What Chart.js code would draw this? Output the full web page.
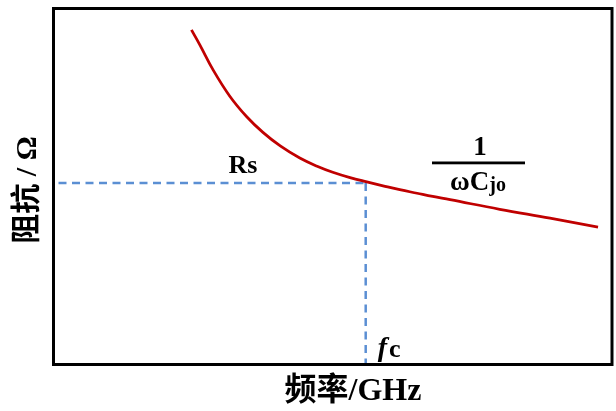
<!DOCTYPE html>
<html>
<head>
<meta charset="utf-8">
<script src="https://cdn.jsdelivr.net/npm/chart.js@4/dist/chart.umd.min.js"></script>
<style>
  html, body { margin: 0; padding: 0; background: #fff; }
  #wrap { width: 616px; height: 411px; position: relative; }
</style>
</head>
<body>
<div id="wrap"><canvas id="c" width="616" height="411"></canvas></div>
<script>
// Impedance vs. frequency (arbitrary units on both axes)
const freq      = [2.47, 2.62, 2.86, 3.16, 3.46, 3.75, 4.06, 4.41, 4.72, 5.00, 5.31, 5.61, 5.90, 6.20, 6.51, 6.79, 7.10, 7.99, 8.89, 9.75];
const impedance = [9.40, 8.98, 8.27, 7.53, 6.96, 6.52, 6.14, 5.80, 5.57, 5.40, 5.25, 5.13, 5.02, 4.91, 4.81, 4.72, 4.63, 4.36, 4.11, 3.86];

// Series resistance level and corner frequency
const rsLevel = 5.10;
const fcFreq  = 5.59;

const axisRange = { xMin: 0, xMax: 10, yMin: 0, yMax: 10 };

const curvePoints = freq.map((f, i) => ({ x: f, y: impedance[i] }));
const rsLine = [{ x: axisRange.xMin, y: rsLevel }, { x: fcFreq, y: rsLevel }];
const fcLine = [{ x: fcFreq, y: rsLevel }, { x: fcFreq, y: axisRange.yMin }];

const SERIF = "'Liberation Serif', 'Times New Roman', 'Noto Sans CJK SC', serif";
const RED = '#C00000';
const BLUE = '#5B8FD3';

// Frame, annotations and axis titles
const annotate = {
  id: 'annotate',
  afterDatasetsDraw(chart) {
    const { ctx, chartArea: a, scales } = chart;
    const xs = scales.x, ys = scales.y;
    ctx.save();

    // plot frame
    ctx.strokeStyle = '#000';
    ctx.lineWidth = 3;
    ctx.strokeRect(a.left, a.top, a.right - a.left, a.bottom - a.top);

    ctx.fillStyle = '#000';
    ctx.textBaseline = 'alphabetic';

    // Rs label above the dashed level line
    ctx.font = 'bold 26px ' + SERIF;
    ctx.textAlign = 'center';
    ctx.fillText('Rs', xs.getPixelForValue(3.39), ys.getPixelForValue(rsLevel) - 10);

    // fc label beside the dashed frequency marker
    const fx = xs.getPixelForValue(fcFreq) + 12;
    const fy = a.bottom - 9;
    ctx.textAlign = 'left';
    ctx.font = 'italic bold 28px ' + SERIF;
    ctx.fillText('f', fx, fy);
    const fw = ctx.measureText('f').width;
    ctx.font = 'bold 26px ' + SERIF;
    ctx.fillText('c', fx + fw + 2, fy + 1);

    // 1 / ωCjo fraction
    const cx = 478;
    ctx.textAlign = 'center';
    ctx.font = 'bold 27px ' + SERIF;
    ctx.fillText('1', cx + 2, 155);
    ctx.fillRect(432, 161.5, 93, 2.8);
    ctx.textAlign = 'left';
    ctx.font = 'bold 27px ' + SERIF;
    const w1 = ctx.measureText('ωC').width;
    ctx.font = 'bold 20px ' + SERIF;
    const w2 = ctx.measureText('jo').width;
    const sx = cx - (w1 + w2) / 2;
    ctx.font = 'bold 27px ' + SERIF;
    ctx.fillText('ωC', sx, 190);
    ctx.font = 'bold 20px ' + SERIF;
    ctx.fillText('jo', sx + w1, 191);

    // axis titles
    ctx.font = 'bold 32px ' + SERIF;
    ctx.textAlign = 'center';
    ctx.textBaseline = 'middle';
    ctx.fillText('频率/GHz', 353, 392);

    ctx.font = 'bold 30px ' + SERIF;
    ctx.translate(28, 190);
    ctx.rotate(-Math.PI / 2);
    ctx.fillText('阻抗 / Ω', 0, 0);

    ctx.restore();
  }
};

new Chart(document.getElementById('c'), {
  type: 'line',
  data: {
    datasets: [
      {
        data: curvePoints,
        borderColor: RED,
        borderWidth: 2.75,
        pointRadius: 0,
        tension: 0.4,
        fill: false,
        clip: false
      },
      {
        data: rsLine,
        borderColor: BLUE,
        borderWidth: 2.5,
        borderDash: [8, 5.5],
        borderDashOffset: -5,
        pointRadius: 0,
        fill: false
      },
      {
        data: fcLine,
        borderColor: BLUE,
        borderWidth: 2.5,
        borderDash: [8, 5.5],
        pointRadius: 0,
        fill: false
      }
    ]
  },
  options: {
    responsive: false,
    animation: false,
    layout: { padding: { left: 53.5, top: 8.5, right: 4, bottom: 46.5 } },
    plugins: { legend: { display: false }, tooltip: { enabled: false } },
    scales: {
      x: { type: 'linear', min: axisRange.xMin, max: axisRange.xMax, display: false },
      y: { type: 'linear', min: axisRange.yMin, max: axisRange.yMax, display: false }
    }
  },
  plugins: [annotate]
});
</script>
</body>
</html>
